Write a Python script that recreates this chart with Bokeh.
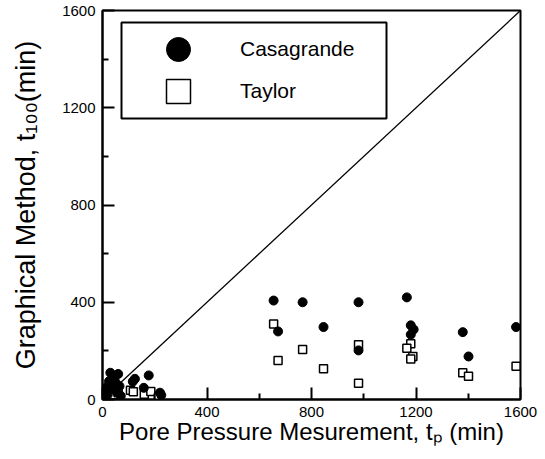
from bokeh.plotting import figure
from bokeh.models import FixedTicker, Legend, LegendItem, BoxAnnotation
from bokeh.embed import file_html
from bokeh.resources import INLINE

# ---- data ----
cas_x = [3, 8, 12, 15, 20, 25, 30, 35, 40, 45, 50, 55, 60, 65, 70, 116, 124, 158, 177, 220, 225,
         655, 766, 980, 1165, 672, 846, 980, 1180, 1191, 1180, 1379, 1401, 1583]
cas_y = [3, 12, 30, 50, 20, 75, 110, 45, 60, 90, 70, 30, 105, 55, 15, 74, 85, 48, 99, 28, 18,
         407, 400, 400, 420, 280, 298, 202, 305, 288, 267, 277, 177, 298]

tay_x = [5, 15, 30, 45, 60, 107, 118, 160, 185, 215,
         655, 766, 672, 846, 980, 980, 1180, 1165, 1188, 1180, 1379, 1401, 1583]
tay_y = [3, 8, 15, 20, 28, 38, 32, 22, 33, 12,
         311, 206, 160, 126, 225, 67, 229, 211, 177, 167, 110, 96, 137]

series_names = ["Casagrande", "Taylor"]
major_ticks = [0, 400, 800, 1200, 1600]
minor_ticks = [200, 600, 1000, 1400]
axis_min, axis_max = 0, 1600
x_title = "Pore Pressure Mesurement, t\u209a (min)"
y_title = "Graphical Method, t\u2081\u2080\u2080(min)"

FONT = "Liberation Sans"
W, H = 545, 459

p = figure(width=W, height=H, output_backend="svg", toolbar_location=None,
           x_range=(axis_min, axis_max), y_range=(axis_min, axis_max),
           min_border_left=102, min_border_right=25, min_border_top=10,
           min_border_bottom=60)
p.grid.visible = False
p.outline_line_color = "black"
p.outline_line_width = 2
p.background_fill_color = "white"
p.border_fill_color = "white"

for ax in (p.xaxis[0], p.yaxis[0]):
    ax.ticker = FixedTicker(ticks=major_ticks, minor_ticks=minor_ticks)
    ax.axis_line_width = 2
    ax.axis_line_color = "black"
    ax.major_tick_in = 12
    ax.major_tick_out = 0
    ax.minor_tick_in = 6
    ax.minor_tick_out = 0
    ax.major_tick_line_width = 2
    ax.minor_tick_line_width = 2
    ax.major_tick_line_color = "black"
    ax.minor_tick_line_color = "black"
    ax.major_label_text_font = FONT
    ax.major_label_text_font_size = "15px"
    ax.major_label_text_color = "black"
    ax.major_label_standoff = 7
    ax.axis_label_text_font = FONT
    ax.axis_label_text_font_style = "normal"
    ax.axis_label_text_color = "black"

p.xaxis[0].axis_label = x_title
p.xaxis[0].axis_label_text_font_size = "24px"
p.xaxis[0].axis_label_standoff = -2
p.yaxis[0].axis_label = y_title
p.yaxis[0].axis_label_text_font_size = "27px"
p.yaxis[0].axis_label_standoff = 18

# y = x reference line
p.line([axis_min, axis_max], [axis_min, axis_max], line_color="black", line_width=1.3)

r_tay = p.rect(x=tay_x, y=tay_y, width=8, height=8, width_units="screen",
               height_units="screen", fill_color="white", line_color="black",
               line_width=1.5)
r_cas = p.ellipse(x=cas_x, y=cas_y, width=9, height=9, width_units="screen",
                  height_units="screen", fill_color="black", line_color="black")


# legend frame (pixel layout converted to data units of the 0..1600 axes)
def fx(px):
    return (px - 102) / 418 * (axis_max - axis_min)


def fy(py):
    return (399 - py) / 389 * (axis_max - axis_min)


p.add_layout(BoxAnnotation(left=fx(121), right=fx(386), top=fy(22), bottom=fy(118),
                           fill_color="white", fill_alpha=1, line_color="black",
                           line_width=2, line_alpha=1))

legend = Legend(items=[LegendItem(label=series_names[0], renderers=[r_cas]),
                       LegendItem(label=series_names[1], renderers=[r_tay])],
                location=(49, 281), orientation="vertical",
                glyph_width=30, glyph_height=30, label_standoff=47,
                spacing=12, padding=12, margin=0,
                border_line_alpha=0, background_fill_alpha=0,
                label_text_font=FONT, label_text_font_size="21px",
                label_text_color="black")
p.add_layout(legend)

open("out.html", "w").write(file_html(p, INLINE))
